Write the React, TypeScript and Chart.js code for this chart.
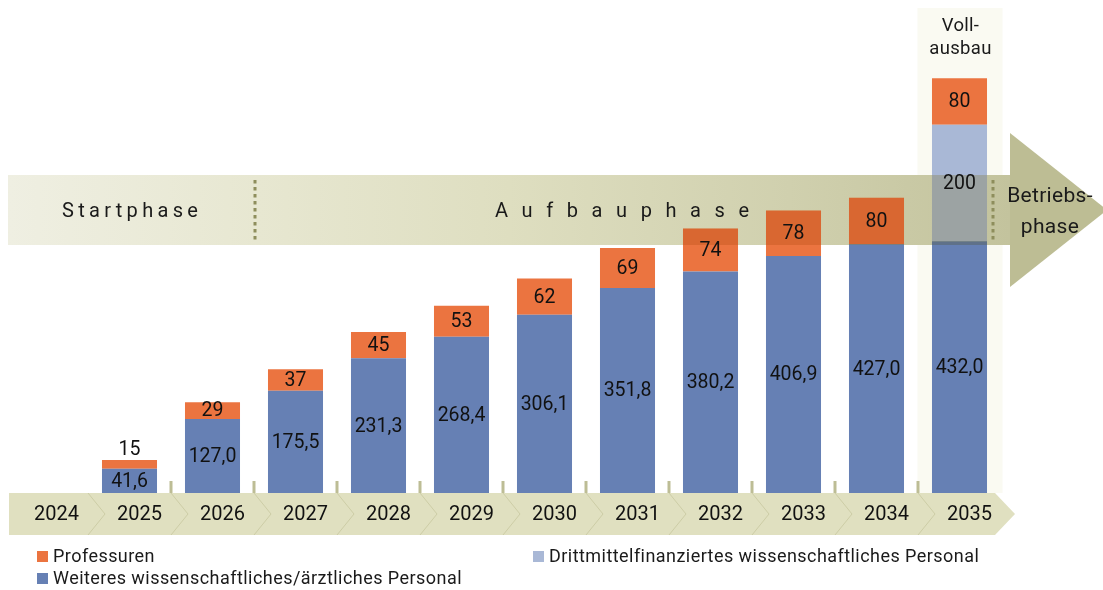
import React, { useEffect, useRef } from "react";
import { Chart, registerables } from "chart.js";

Chart.register(...registerables);

const years = ["2024", "2025", "2026", "2027", "2028", "2029", "2030", "2031", "2032", "2033", "2034", "2035"];
const weiteres = [null, 41.6, 127.0, 175.5, 231.3, 268.4, 306.1, 351.8, 380.2, 406.9, 427.0, 432.0];
const drittmittel = [null, null, null, null, null, null, null, null, null, null, null, 200];
const professuren = [null, 15, 29, 37, 45, 53, 62, 69, 74, 78, 80, 80];

const legendItems = [
  { label: "Professuren", color: "#EB7440", x: 37, y: 557 },
  { label: "Weiteres wissenschaftliches/ärztliches Personal", color: "#6680B4", x: 37, y: 579 },
  { label: "Drittmittelfinanziertes wissenschaftliches Personal", color: "#A9B8D6", x: 533, y: 557 },
];

const FONT = "Roboto, 'Liberation Sans', sans-serif";

const BAND = { x: 8, top: 175, bottom: 245, end: 1010 };

const decoPlugin = {
  id: "deco",
  beforeDatasetsDraw(chart: any) {
    const ctx = chart.ctx;
    const xs = chart.scales.x;
    ctx.save();
    // Vollausbau column background
    const c35 = xs.getPixelForValue(11);
    ctx.fillStyle = "#FAFAF2";
    ctx.fillRect(c35 - 42, 8, 85, 485);

    // band
    const g = ctx.createLinearGradient(BAND.x, 0, BAND.end, 0);
    g.addColorStop(0, "#EFEFE2");
    g.addColorStop(0.25, "#E7E7D1");
    g.addColorStop(0.5, "#DEDEC0");
    g.addColorStop(0.78, "#D0D0AE");
    g.addColorStop(1, "#C3C39D");
    ctx.fillStyle = g;
    ctx.fillRect(BAND.x, BAND.top, BAND.end - BAND.x, BAND.bottom - BAND.top);
    // arrow head
    ctx.fillStyle = "#BDBD94";
    ctx.beginPath();
    ctx.moveTo(BAND.end, 133);
    ctx.lineTo(1107, 210);
    ctx.lineTo(BAND.end, 287);
    ctx.closePath();
    ctx.fill();

    // dotted separators
    ctx.fillStyle = "#8E8E5C";
    for (const dx of [255, 993]) {
      for (let y = 180; y < 243; y += 7) ctx.fillRect(dx - 1.5, y, 3, 3.5);
    }

    // phase texts
    ctx.fillStyle = "#1a1a1a";
    ctx.textBaseline = "middle";
    ctx.textAlign = "left";
    ctx.font = `20px ${FONT}`;
    (ctx as any).letterSpacing = "4.3px";
    ctx.fillText("Startphase", 62, 212);
    (ctx as any).letterSpacing = "13.6px";
    ctx.fillText("Aufbauphase", 495, 212);
    (ctx as any).letterSpacing = "0.3px";
    ctx.textAlign = "center";
    ctx.font = `21px ${FONT}`;
    ctx.fillText("Betriebs-", 1050, 197);
    ctx.fillText("phase", 1050, 228);

    // Vollausbau
    ctx.font = `18.5px ${FONT}`;
    ctx.fillText("Voll-", c35 + 1, 26);
    ctx.fillText("ausbau", c35 + 1, 49);
    (ctx as any).letterSpacing = "0px";

    // axis chevron band
    const n = years.length;
    const base = chart.chartArea.bottom;
    const axTop = base, axBot = base + 42, axMid = base + 21;
    ctx.fillStyle = "#E0E0C0";
    ctx.beginPath();
    ctx.moveTo(9, axTop);
    ctx.lineTo(995, axTop);
    ctx.lineTo(1015, axMid);
    ctx.lineTo(995, axBot);
    ctx.lineTo(9, axBot);
    ctx.closePath();
    ctx.fill();
    ctx.strokeStyle = "#CDCDA6";
    ctx.lineWidth = 1;
    for (let i = 1; i < n; i++) {
      const mx = (xs.getPixelForValue(i - 1) + xs.getPixelForValue(i)) / 2;
      ctx.beginPath();
      ctx.moveTo(mx, axTop);
      ctx.lineTo(mx + 17, axMid);
      ctx.lineTo(mx, axBot);
      ctx.stroke();
      if (i >= 2) {
        ctx.fillStyle = "#BDBD95";
        ctx.fillRect(mx - 1.5, base - 12, 3, 12);
      }
    }
    ctx.fillStyle = "#111";
    ctx.font = `20px ${FONT}`;
    ctx.textAlign = "center";
    for (let i = 0; i < n; i++) {
      ctx.fillText(years[i], xs.getPixelForValue(i) + 10, axMid + 1);
    }

    // legend
    ctx.textAlign = "left";
    ctx.font = `18px ${FONT}`;
    (ctx as any).letterSpacing = "0.45px";
    for (const it of legendItems) {
      ctx.fillStyle = it.color;
      ctx.fillRect(it.x, it.y - 6, 11, 11);
      ctx.fillStyle = "#1a1a1a";
      ctx.fillText(it.label, it.x + 16, it.y);
    }
    (ctx as any).letterSpacing = "0px";
    ctx.restore();
  },
  afterDatasetsDraw(chart: any) {
    const ctx = chart.ctx;
    ctx.save();
    // tint bars within band
    ctx.beginPath();
    chart.data.datasets.forEach((ds: any, di: number) => {
      chart.getDatasetMeta(di).data.forEach((el: any, i: number) => {
        if (ds.data[i] == null) return;
        const w = el.width;
        ctx.rect(el.x - w / 2, Math.min(el.y, el.base), w, Math.abs(el.base - el.y));
      });
    });
    ctx.clip();
    ctx.globalCompositeOperation = "multiply";
    ctx.fillStyle = "rgb(236,226,194)";
    ctx.fillRect(BAND.x, BAND.top, BAND.end - BAND.x, BAND.bottom - BAND.top);
    ctx.restore();

    // value labels
    ctx.save();
    ctx.fillStyle = "#111";
    ctx.font = `19.5px ${FONT}`;
    ctx.textAlign = "center";
    ctx.textBaseline = "middle";
    chart.data.datasets.forEach((ds: any, di: number) => {
      chart.getDatasetMeta(di).data.forEach((el: any, i: number) => {
        const v = ds.data[i];
        if (v == null) return;
        const txt = di === 0 ? v.toFixed(1).replace(".", ",") : String(v);
        const h = Math.abs(el.base - el.y);
        const y = h < 16 ? el.y - 11 : (el.y + el.base) / 2;
        ctx.fillText(txt, el.x, y + 1);
      });
    });
    ctx.restore();
  },
};

export default function App() {
  const ref = useRef<HTMLCanvasElement>(null);
  useEffect(() => {
    if (!ref.current) return;
    const chart = new Chart(ref.current, {
      type: "bar",
      data: {
        labels: years,
        datasets: [
          { label: "Weiteres wissenschaftliches/ärztliches Personal", data: weiteres, backgroundColor: "#6680B4" },
          { label: "Drittmittelfinanziertes wissenschaftliches Personal", data: drittmittel, backgroundColor: "#A9B8D6" },
          { label: "Professuren", data: professuren, backgroundColor: "#EB7440" },
        ],
      },
      options: {
        responsive: false,
        animation: false,
        devicePixelRatio: 1,
        layout: { padding: { left: 5, right: 102, top: 27, bottom: 97 } },
        datasets: { bar: { categoryPercentage: 1, barPercentage: 0.663 } },
        scales: {
          x: { stacked: true, display: false },
          y: { stacked: true, display: false, min: 0, max: 800 },
        },
        plugins: { legend: { display: false }, tooltip: { enabled: false } },
      },
      plugins: [decoPlugin],
    });
    return () => chart.destroy();
  }, []);
  return (
    <div style={{ position: "absolute", left: 0, top: 0, width: 1103, height: 590, background: "#fff" }}>
      <canvas ref={ref} width={1103} height={590} />
    </div>
  );
}
